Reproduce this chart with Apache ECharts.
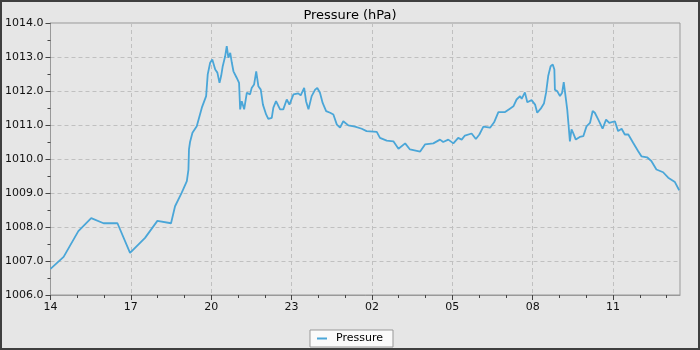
<!DOCTYPE html>
<html>
<head>
<meta charset="utf-8">
<script src="https://cdn.jsdelivr.net/npm/echarts@6/dist/echarts.min.js"></script>
<style>
    html, body { margin: 0; padding: 0; }
    #frame {
        width: 700px; height: 350px; box-sizing: border-box;
        border: 2px solid #3f3f3f; background: #e6e6e6;
    }
    #chart { width: 100%; height: 100%; }
</style>
</head>
<body>
<div id="frame"><div id="chart"></div></div>
<script>
    // hours since 14:00
    var hours = [
        0.00, 0.49, 1.04, 1.52, 1.98, 2.50, 2.97, 3.53, 3.99, 4.50,
        4.65, 4.90, 5.09, 5.15, 5.17, 5.21, 5.30, 5.46, 5.65, 5.81,
        5.87, 5.96, 6.04, 6.15, 6.23, 6.31, 6.37, 6.43, 6.52, 6.58,
        6.64, 6.71, 6.77, 6.83, 6.95, 7.04, 7.08, 7.14, 7.23, 7.33,
        7.45, 7.51, 7.60, 7.68, 7.76, 7.85, 7.93, 8.05, 8.13, 8.26,
        8.32, 8.42, 8.57, 8.69, 8.82, 8.92, 9.07, 9.25, 9.34, 9.47,
        9.54, 9.63, 9.75, 9.88, 9.96, 10.06, 10.16, 10.29, 10.44, 10.56,
        10.69, 10.81, 10.93, 11.12, 11.37, 11.62, 11.80, 12.18, 12.30, 12.55,
        12.80, 12.99, 13.24, 13.42, 13.80, 13.98, 14.29, 14.54, 14.66, 14.85,
        15.04, 15.22, 15.35, 15.47, 15.72, 15.88, 16.01, 16.16, 16.41, 16.56,
        16.72, 16.97, 17.15, 17.28, 17.40, 17.53, 17.59, 17.71, 17.80, 17.96,
        18.09, 18.17, 18.30, 18.42, 18.50, 18.58, 18.67, 18.75, 18.81, 18.83,
        18.92, 19.02, 19.10, 19.16, 19.23, 19.29, 19.34, 19.39, 19.45, 19.51,
        19.61, 19.76, 19.89, 20.01, 20.14, 20.24, 20.32, 20.45, 20.61, 20.74,
        20.86, 21.07, 21.19, 21.32, 21.44, 21.57, 21.75, 21.94, 22.06, 22.27,
        22.43, 22.62, 22.87, 23.06, 23.31, 23.47
    ];
    var pressure = [
        1006.77, 1007.12, 1007.88, 1008.26, 1008.11, 1008.11, 1007.24, 1007.68, 1008.18, 1008.11,
        1008.61, 1009.01, 1009.35, 1009.69, 1010.28, 1010.50, 1010.77, 1010.96, 1011.51, 1011.85,
        1012.49, 1012.83, 1012.93, 1012.63, 1012.54, 1012.24, 1012.44, 1012.73, 1013.02, 1013.32,
        1012.98, 1013.12, 1012.83, 1012.58, 1012.39, 1012.24, 1011.46, 1011.70, 1011.46, 1011.95,
        1011.90, 1012.09, 1012.19, 1012.58, 1012.14, 1012.04, 1011.60, 1011.31, 1011.18, 1011.21,
        1011.51, 1011.70, 1011.46, 1011.46, 1011.75, 1011.60, 1011.90, 1011.93, 1011.87, 1012.09,
        1011.70, 1011.46, 1011.85, 1012.04, 1012.09, 1011.95, 1011.65, 1011.41, 1011.36, 1011.31,
        1011.01, 1010.92, 1011.11, 1010.99, 1010.95, 1010.89, 1010.82, 1010.80, 1010.62, 1010.54,
        1010.52, 1010.30, 1010.46, 1010.28, 1010.22, 1010.43, 1010.46, 1010.57, 1010.50, 1010.57,
        1010.46, 1010.62, 1010.57, 1010.69, 1010.75, 1010.59, 1010.72, 1010.95, 1010.92, 1011.08,
        1011.38, 1011.38, 1011.48, 1011.55, 1011.75, 1011.85, 1011.77, 1011.96, 1011.67, 1011.73,
        1011.60, 1011.36, 1011.48, 1011.63, 1011.95, 1012.44, 1012.73, 1012.78, 1012.63, 1012.04,
        1011.99, 1011.85, 1011.95, 1012.26, 1012.24, 1011.46, 1011.00, 1010.52, 1010.87, 1010.77,
        1010.57, 1010.65, 1010.67, 1010.96, 1011.06, 1011.41, 1011.36, 1011.16, 1010.89, 1011.16,
        1011.06, 1011.11, 1010.82, 1010.89, 1010.72, 1010.72, 1010.48, 1010.23, 1010.08, 1010.05,
        1009.94, 1009.69, 1009.61, 1009.45, 1009.32, 1009.08
    ];
    var xTickHours = [0, 3, 6, 9, 12, 15, 18, 21];
    var xTickLabels = ['14', '17', '20', '23', '02', '05', '08', '11'];
    var xMinorHours = [];
    for (var h = 0; h <= 23; h++) xMinorHours.push(h);

    var data = hours.map(function (v, i) { return [v, pressure[i]]; });
    var font = 'DejaVu Sans';

    var chart = echarts.init(document.getElementById('chart'));
    chart.setOption({
        backgroundColor: '#e6e6e6',
        animation: false,
        title: {
            text: 'Pressure (hPa)',
            left: 'center',
            top: 2,
            textStyle: { fontFamily: font, fontSize: 13, fontWeight: 'normal', color: '#000' }
        },
        legend: {
            data: ['Pressure'],
            bottom: 1,
            left: 'center',
            icon: 'rect',
            itemWidth: 10,
            itemHeight: 2,
            padding: [3, 10, 3, 7],
            backgroundColor: '#fafafa',
            borderColor: '#999',
            borderWidth: 1,
            borderRadius: 0,
            textStyle: { fontFamily: font, fontSize: 11, color: '#000', padding: [0, 0, 0, 4] }
        },
        grid: {
            left: 48, right: 18, top: 21, bottom: 53,
            show: true,
            borderColor: '#999',
            borderWidth: 1,
            backgroundColor: 'transparent'
        },
        xAxis: [{
            type: 'value',
            min: 0,
            max: 23.5,
            interval: 3,
            axisLine: { lineStyle: { color: '#999' } },
            axisTick: { length: 5, lineStyle: { color: '#444' }, customValues: xTickHours },
            axisLabel: {
                customValues: xTickHours,
                margin: 7,
                fontFamily: font, fontSize: 11, color: '#111',
                formatter: function (v) {
                    var i = xTickHours.indexOf(Math.round(v));
                    return i >= 0 && Math.abs(v - Math.round(v)) < 1e-6 ? xTickLabels[i] : '';
                }
            },
            splitLine: { show: true, lineStyle: { color: '#c0c0c0', type: [4, 3] } }
        }, {
            type: 'value',
            min: 0,
            max: 23.5,
            interval: 1,
            position: 'bottom',
            axisLine: { show: false },
            axisTick: { length: 3, lineStyle: { color: '#444' }, customValues: xMinorHours },
            axisLabel: { show: false },
            splitLine: { show: false }
        }],
        yAxis: {
            type: 'value',
            min: 1006,
            max: 1014,
            interval: 1,
            axisLine: { show: true, lineStyle: { color: '#999' } },
            axisTick: { show: true, length: 5, lineStyle: { color: '#444' } },
            minorTick: { show: true, splitNumber: 2, length: 3, lineStyle: { color: '#444' } },
            axisLabel: {
                margin: 7,
                fontFamily: font, fontSize: 11, color: '#111',
                formatter: function (v) { return v.toFixed(1); }
            },
            splitLine: { show: true, lineStyle: { color: '#c0c0c0', type: [4, 3] } }
        },
        series: [{
            name: 'Pressure',
            type: 'line',
            xAxisIndex: 0,
            data: data,
            showSymbol: false,
            symbol: 'none',
            color: '#4aa6d8',
            lineStyle: { width: 1.8, color: '#4aa6d8' }
        }]
    });
</script>
</body>
</html>
